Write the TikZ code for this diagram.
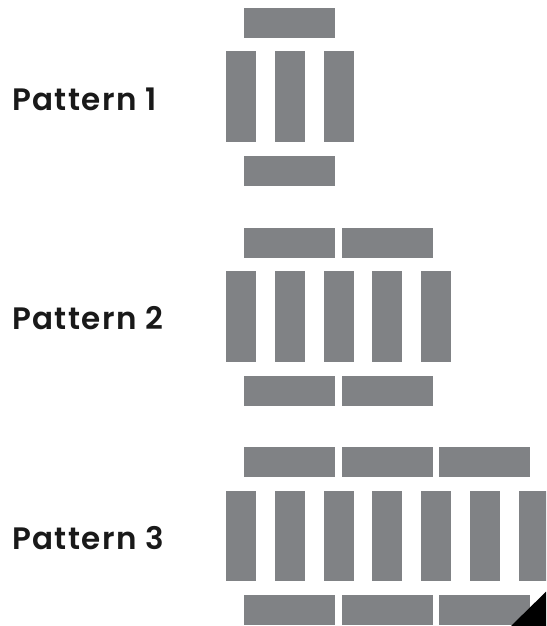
\documentclass[tikz,border=0pt]{standalone}
\usepackage{fontspec}
\setmainfont{Poppins}
\newfontfamily\labelfont{Poppins SemiBold}[LetterSpace=4.5]
\definecolor{bargray}{RGB}{128,130,133}
\begin{document}
\begin{tikzpicture}[x=1pt,y=-1pt,font=\labelfont\fontsize{31}{36}\selectfont,bar/.style={fill=bargray}]
\def\vw{30}\def\vp{48.7}\def\hw{91}\def\hp{97.4}\def\dy{219.7}
\useasboundingbox (0,0) rectangle (546,626);
\clip (0,0) rectangle (546,626);
\foreach \n in {1,2,3}{
  \pgfmathsetmacro\oy{(\n-1)*\dy}
  \node[anchor=base west,inner sep=0pt,text=black!90] (pattern\n) at (12,110+\oy) {Pattern \n};
  \pgfmathtruncatemacro\nv{2*\n}
  \foreach \i in {0,...,\nv} \fill[bar] (226.3+\i*\vp,51.3+\oy) rectangle ++(\vw,90.7);
  \pgfmathtruncatemacro\nh{\n-1}
  \foreach \j in {0,...,\nh}{
    \fill[bar] (244.3+\j*\hp,8+\oy) rectangle ++(\hw,30);
    \fill[bar] (244.3+\j*\hp,156+\oy) rectangle ++(\hw,30);
  }
}
\fill (511,626) -- (546,626) -- (546,591.7) -- cycle;
\end{tikzpicture}
\end{document}
